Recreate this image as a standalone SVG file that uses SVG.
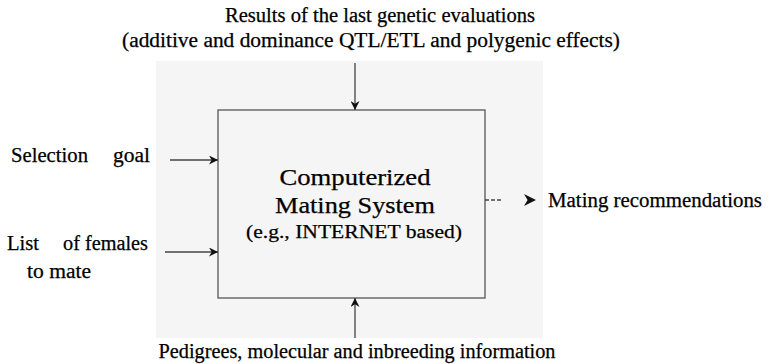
<svg xmlns="http://www.w3.org/2000/svg" width="769" height="364" viewBox="0 0 769 364">
<style>
.box{fill:none;stroke:#555;stroke-width:1.3}
.con{stroke:#444;stroke-width:1.3;fill:none}
.t{font-family:"Liberation Serif","Times New Roman",Times,serif;font-size:20px;fill:#000;stroke:#000;stroke-width:0.25}
</style>
<defs>
<marker id="ah" viewBox="0 0 10 10" refX="10" refY="5" markerWidth="9" markerHeight="9" markerUnits="userSpaceOnUse" orient="auto">
<path d="M0,0 L10,5 L0,10 L3,5 Z" fill="#111"/>
</marker>
<marker id="ah2" viewBox="0 0 10 10" refX="10" refY="5" markerWidth="12" markerHeight="12" markerUnits="userSpaceOnUse" orient="auto">
<path d="M0,0 L10,5 L0,10 L3,5 Z" fill="#111"/>
</marker>
</defs>
<rect x="156" y="61" width="387" height="277" fill="#f5f5f5"/>
<g id="system">
<rect class="box" x="218" y="110" width="267" height="188"/>
<text class="t" x="355" y="185" text-anchor="middle" style="font-size:23px" textLength="151" lengthAdjust="spacingAndGlyphs">Computerized</text>
<text class="t" x="355" y="213" text-anchor="middle" style="font-size:23px" textLength="160" lengthAdjust="spacingAndGlyphs">Mating System</text>
<text class="t" x="354" y="238" text-anchor="middle" style="font-size:19px" textLength="216" lengthAdjust="spacingAndGlyphs">(e.g., INTERNET based)</text>
</g>
<g id="results">
<text class="t" x="380" y="22" text-anchor="middle" textLength="310" lengthAdjust="spacingAndGlyphs">Results of the last genetic evaluations</text>
<text class="t" x="371" y="47" text-anchor="middle" textLength="498" lengthAdjust="spacingAndGlyphs">(additive and dominance QTL/ETL and polygenic effects)</text>
</g>
<g id="goal">
<text class="t" x="11" y="162" textLength="77" lengthAdjust="spacingAndGlyphs">Selection</text>
<text class="t" x="113" y="162" textLength="37" lengthAdjust="spacingAndGlyphs">goal</text>
</g>
<g id="females">
<text class="t" x="7" y="250" textLength="32" lengthAdjust="spacingAndGlyphs">List</text>
<text class="t" x="63" y="250" textLength="85" lengthAdjust="spacingAndGlyphs">of females</text>
<text class="t" x="27" y="278" textLength="64" lengthAdjust="spacingAndGlyphs">to mate</text>
</g>
<g id="pedigrees">
<text class="t" x="357" y="358" text-anchor="middle" textLength="397" lengthAdjust="spacingAndGlyphs">Pedigrees, molecular and inbreeding information</text>
</g>
<g id="recommendations">
<text class="t" x="548" y="207" textLength="214" lengthAdjust="spacingAndGlyphs">Mating recommendations</text>
</g>
<g id="connectors">
<line class="con" x1="355" y1="63" x2="355" y2="110" marker-end="url(#ah)"/>
<line class="con" x1="355" y1="338" x2="355" y2="298" marker-end="url(#ah)"/>
<line class="con" x1="170" y1="160" x2="218" y2="160" marker-end="url(#ah)"/>
<line class="con" x1="165" y1="252" x2="218" y2="252" marker-end="url(#ah)"/>
<line class="con" x1="485" y1="200" x2="503" y2="200" stroke-dasharray="4 2"/>
<line x1="525" y1="200" x2="536" y2="200" stroke="none" marker-end="url(#ah2)"/>
</g>
</svg>
